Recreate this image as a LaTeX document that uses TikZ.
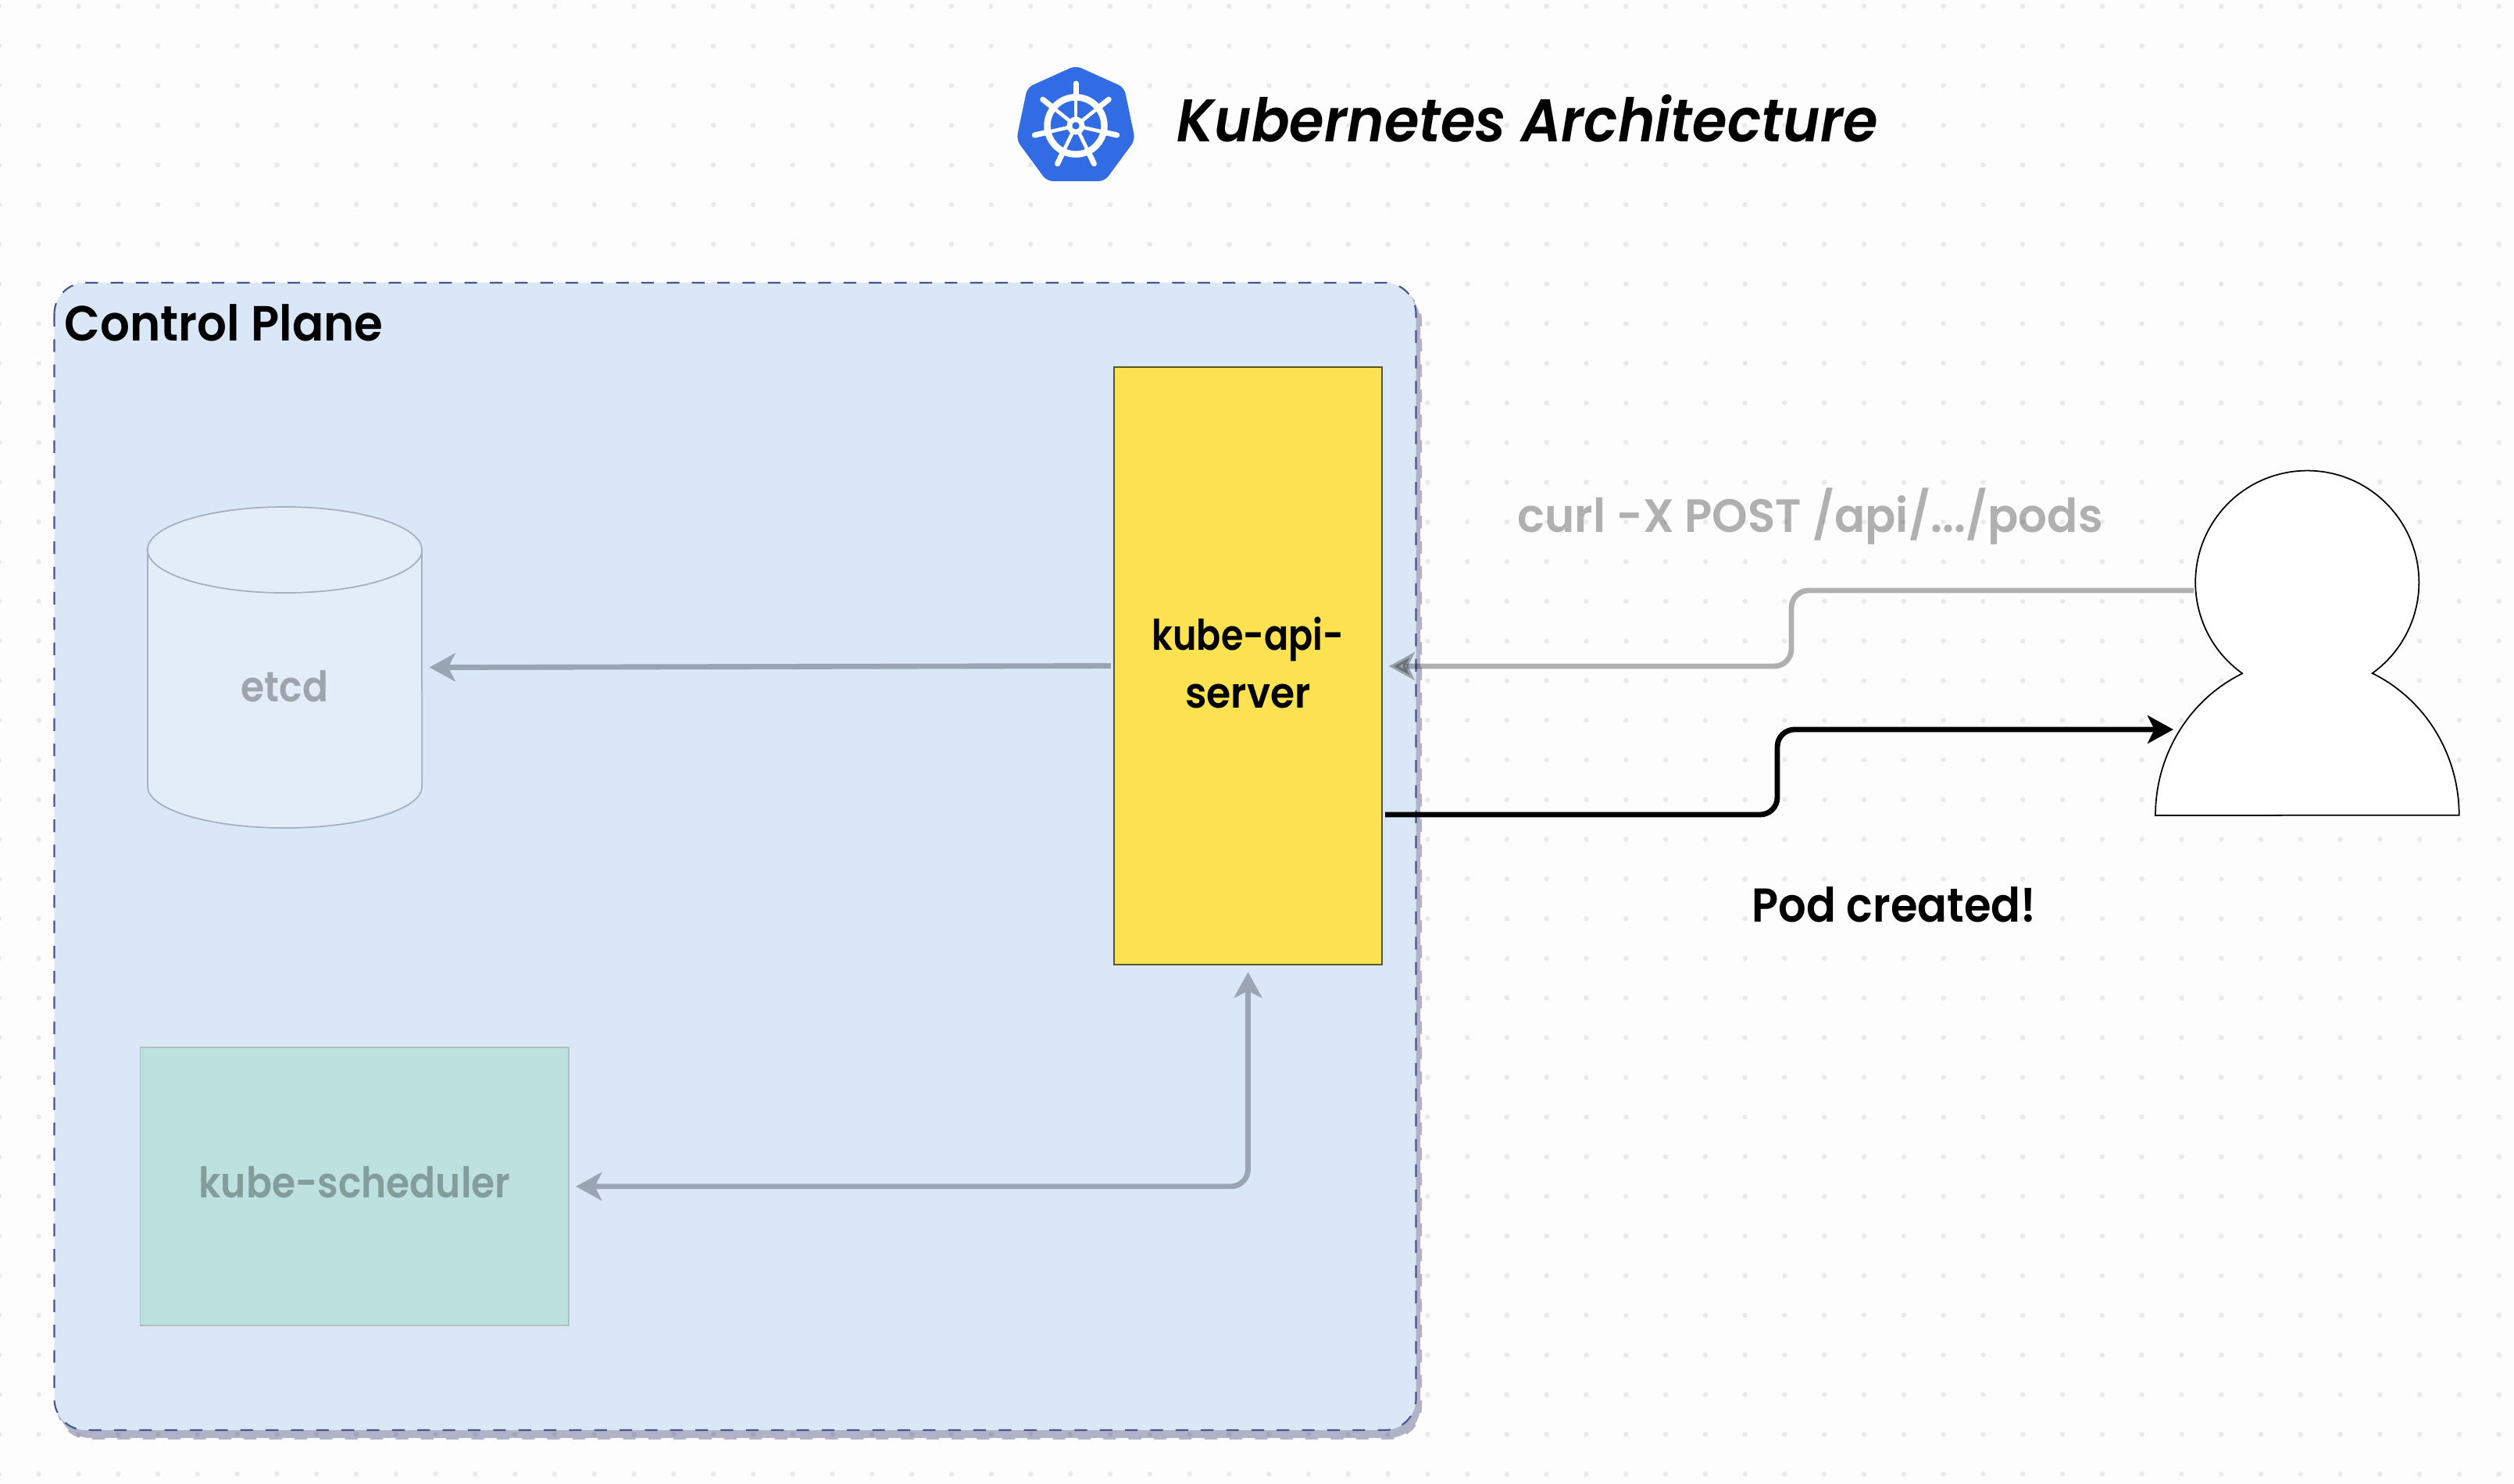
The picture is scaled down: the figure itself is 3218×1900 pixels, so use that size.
\documentclass[tikz,border=0pt]{standalone}
\usepackage{graphicx}
\usepackage{fontspec}
\setmainfont{Poppins}[BoldFont={Poppins SemiBold},BoldItalicFont={Poppins SemiBold Italic}]
\usetikzlibrary{arrows.meta,calc}
\definecolor{bgc}{HTML}{FDFDFD}
\definecolor{panelc}{HTML}{DAE7F7}
\definecolor{paneledge}{HTML}{46548F}
\definecolor{shadowc}{HTML}{B0B2C8}
\definecolor{apic}{HTML}{FCE251}
\definecolor{apiedge}{HTML}{5C5526}
\definecolor{schedc}{HTML}{BDE1DF}
\definecolor{schededge}{HTML}{B3BEB5}
\definecolor{etcdc}{HTML}{E3EDF9}
\definecolor{etcdedge}{HTML}{A5AFBD}
\definecolor{kblue}{HTML}{326CE5}
\definecolor{arrowgray}{HTML}{9AA4B3}
\newcommand{\hsq}[2]{\scalebox{#1}[1]{#2}}
\tikzset{
  px/.style={x=0.01cm,y=0.01cm},
  headtip/.style={-{Stealth[length=9.4pt,width=10.2pt,inset=2.5pt]}},
  bothtip/.style={{Stealth[length=9.4pt,width=10.2pt,inset=2.5pt]}-{Stealth[length=9.4pt,width=10.2pt,inset=2.5pt]}},
  conn/.style={line width=1.95pt,rounded corners=0.22cm},
  grayconn/.style={conn,draw=black,opacity=.3},
  panelgray/.style={conn,draw=arrowgray,fill=none,color=arrowgray},
  boxlabel/.style={font=\bfseries\fontsize{15.4}{21}\selectfont,inner sep=0pt},
  freelabel/.style={anchor=base west,inner sep=0pt},
}
\begin{document}
\begin{tikzpicture}[px]
\useasboundingbox (0,0) rectangle (3218,-1900);
\fill[bgc] (0,0) rectangle (3218,-1900);
% shadow of the panel
\draw[shadowc,fill=shadowc,line width=1.2pt,dash pattern=on 4.6pt off 4.6pt,rounded corners=.4cm] (75,-371) rectangle (1818,-1841);
% dotted grid
\foreach \i in {-1,0,...,63}{
  \foreach \j in {0,1,...,37}{
    \fill[black,opacity=.075] ({49.7+\i*50.79},{-8-\j*50.79}) circle (0.033cm);
  }
}
% panel
\draw[fill=panelc,draw=paneledge,line width=.6pt,dash pattern=on 4.6pt off 4.6pt,rounded corners=.4cm] (69.5,-362) rectangle (1812.5,-1831);
\node[freelabel,font=\bfseries\fontsize{18}{22}\selectfont] (cptitle) at (82,-436) {\hsq{.94}{Control Plane}};
% etcd cylinder
\draw[fill=etcdc,draw=etcdedge,line width=.5pt] (189,-704) -- (189,-1007) arc[start angle=180,end angle=360,x radius=1.755cm,y radius=.53cm] -- (540,-704) arc[start angle=0,end angle=180,x radius=1.755cm,y radius=.55cm] -- cycle;
\draw[draw=etcdedge,line width=.5pt] (189,-704) arc[start angle=180,end angle=360,x radius=1.755cm,y radius=.55cm];
\node[boxlabel,minimum width=3.51cm,minimum height=4.11cm,text height=32pt,text depth=7pt,text opacity=.3] (etcd) at (364.5,-854.5) {\hsq{.9}{etcd}};
% api server
\node[boxlabel,fill=apic,draw=apiedge,line width=.45pt,minimum width=3.427cm,minimum height=7.65cm,align=center] (api) at (1597.5,-852.5) {\hsq{.85}{kube-api-}\\\hsq{.93}{server}\rule[-2.2pt]{0pt}{0pt}};
% scheduler
\node[fill=schedc,draw=schededge,line width=.45pt,minimum width=5.48cm,minimum height=3.56cm,inner sep=0pt] (sched) at (453.7,-1519) {};
\node[boxlabel,anchor=base,text opacity=.3] (schedtext) at (454,-1533.5) {\hsq{.9}{kube-scheduler}};
% person
\coordinate (notchL) at (2870,-862);
\coordinate (notchR) at (3037,-862);
\draw[fill=white,draw=black,line width=.5pt] (notchL) arc[start angle=234.4,end angle=-54.4,radius=1.43cm] arc[start angle=64.6,end angle=0,x radius=1.945cm,y radius=2.01cm] -- (2759,-1044) arc[start angle=180,end angle=115.4,x radius=1.945cm,y radius=2.01cm] -- cycle;
% connector ends and bends
\coordinate (curlstart) at (2808,-756);
\coordinate (curlA) at (2293,-756);
\coordinate (curlB) at (2293,-853);
\coordinate (podstart) at (1773,-1043);
\coordinate (podA) at (2275,-1043);
\coordinate (podB) at (2275,-934);
\coordinate (podend) at (2782,-934);
% connectors
\draw[panelgray,headtip,shorten <=1pt,shorten >=2.5pt] (api.west) -- (etcd.east);
\draw[panelgray,bothtip,shorten <=2.4pt,shorten >=2.4pt] (sched.east) -| (api.south);
\draw[grayconn,headtip,shorten >=2.3pt] (curlstart) -- (curlA) -- (curlB) -- (api.east |- curlB);
\draw[conn,black,headtip] (podstart) -- (podA) -- (podB) -- (podend);
% labels
\node[freelabel,font=\bfseries\fontsize{17}{20}\selectfont,text opacity=.3] (curl) at (1942,-681) {\hsq{.97}{curl -X POST /api/.../pods}};
\node[freelabel,font=\bfseries\fontsize{17.3}{20}\selectfont] (pod) at (2242,-1180) {\hsq{.92}{Pod created!}};
\node[freelabel,font=\bfseries\itshape\fontsize{21.9}{26}\selectfont] (title) at (1506,-182) {\hsq{.935}{Kubernetes Architecture}};
% logo
\fill[kblue,rounded corners=0.08cm] (1377,-84) -- (1439,-112) -- (1453,-179) -- (1414,-232) -- (1340,-232) -- (1301,-179) -- (1315,-112) -- cycle;
\begin{scope}[shift={(1377,-161)}]
  \draw[white,line width=2.4pt] (0,0) circle (0.365cm);
  \foreach \a in {90,38.57,-12.86,-64.29,-115.71,-167.14,141.43}{
    \draw[white,line width=1.3pt] (0,0) -- (\a:0.36cm);
    \draw[white,line width=2pt,line cap=round] (\a:0.38cm) -- (\a:0.54cm);
  }
  \fill[white] (0,0) circle (0.115cm);
  \fill[kblue] (0,0) circle (0.047cm);
\end{scope}
\end{tikzpicture}
\end{document}
